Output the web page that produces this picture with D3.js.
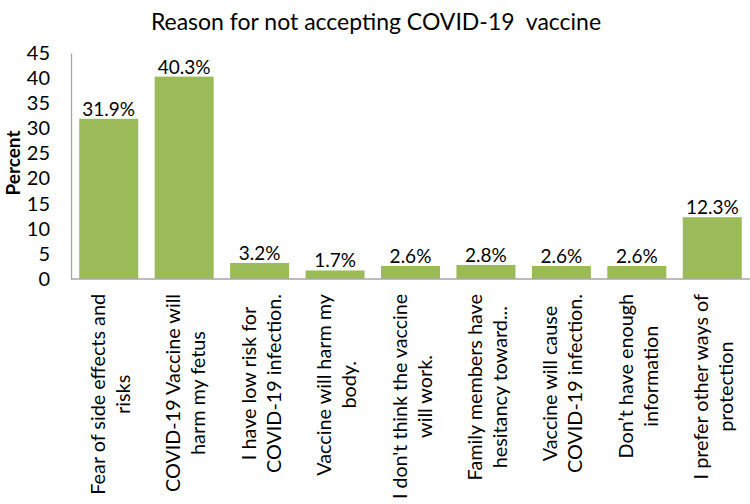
<!DOCTYPE html>
<html><head><meta charset="utf-8">
<script src="https://cdn.jsdelivr.net/npm/d3@7"></script>
<style>body{margin:0;background:#fff}svg{display:block}text{font-family:Lato,"Open Sans",sans-serif;fill:#000}</style>
</head><body>
<svg id="c" width="750" height="504"></svg>
<script>
const categories = [
  ["Fear of side effects and","risks"],
  ["COVID-19 Vaccine will","harm my fetus"],
  ["I have low risk for","COVID-19 infection."],
  ["Vaccine will harm my","body."],
  ["I don't think the vaccine","will work."],
  ["Family members have","hesitancy toward..."],
  ["Vaccine will cause","COVID-19 infection."],
  ["Don’t have enough","information"],
  ["I prefer other ways of","protection"]
];
const values = [31.9, 40.3, 3.2, 1.7, 2.6, 2.8, 2.6, 2.6, 12.3];
const yTicks = [0,5,10,15,20,25,30,35,40,45];
const title = "Reason for not accepting COVID-19  vaccine";
const yTitle = "Percent";

(function(){
const svg = d3.select("#c");
const mL = 71, mR = 750, mT = 53, mB = 279;
const x = d3.scaleBand().domain(d3.range(values.length)).range([mL, mR]).paddingInner(0.218).paddingOuter(0.109);
const y = d3.scaleLinear().domain([0,45]).range([mB, mT]);

svg.append("text").attr("x", 376).attr("y", 30).attr("text-anchor","middle").style("font-size","23px").style("white-space","pre").text(title);

svg.selectAll("rect.bar").data(values).join("rect").attr("class","bar")
  .attr("x",(d,i)=>x(i)).attr("width",x.bandwidth())
  .attr("y",d=>y(d)).attr("height",d=>y(0)-y(d)).attr("fill","#9BBB59");

const ya = svg.append("g").attr("transform",`translate(${mL},0)`).call(d3.axisLeft(y).tickValues(yTicks).tickSize(0).tickPadding(21));
ya.select(".domain").attr("stroke","#A6A6A6").attr("stroke-width",1.3);
ya.selectAll("text").style("font-size","20px").style("font-family","Lato,sans-serif");
svg.append("line").attr("x1",mL).attr("x2",mR).attr("y1",y(0)).attr("y2",y(0)).attr("stroke","#A6A6A6").attr("stroke-width",1.3);

svg.selectAll("text.dl").data(values).join("text").attr("class","dl")
  .attr("x",(d,i)=>x(i)+x.bandwidth()/2).attr("y",d=>y(d)-3)
  .attr("text-anchor","middle").style("font-size","19px").text(d=>d.toFixed(1)+"%");

categories.forEach((lines,i)=>{
  const g = svg.append("g").attr("transform",`translate(${x(i)+x.bandwidth()/2},294) rotate(-90)`);
  const ts = lines.map((l,j)=>g.append("text").attr("y", j===0?-12:13).attr("dominant-baseline","central")
     .attr("text-anchor","middle").style("font-size","19.8px").text(l));
  ts.forEach(t=>{ if (t.node().getComputedTextLength() > 205) t.attr("textLength",205).attr("lengthAdjust","spacingAndGlyphs"); });
  const mw = d3.max(ts, t=>Math.min(205, t.node().getComputedTextLength()));
  ts.forEach(t=>t.attr("x",-mw/2));
});

svg.append("text").attr("transform","translate(12,163) rotate(-90)").attr("text-anchor","middle")
  .attr("dominant-baseline","central").style("font-size","19px").style("font-weight","bold").text(yTitle);
})();
</script>
</body></html>
